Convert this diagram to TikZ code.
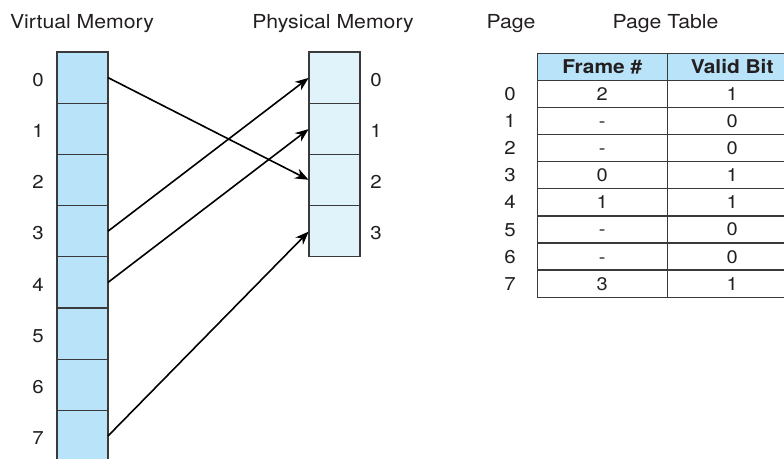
\documentclass[tikz,border=0pt]{standalone}
\usepackage{fontspec}
\setmainfont{TeX Gyre Heros}[FakeStretch=1.1]
\usetikzlibrary{arrows.meta}
\definecolor{vfill}{HTML}{B9E3F8}
\definecolor{pfill}{HTML}{E0F3FB}
\definecolor{edge}{HTML}{3A3A3A}
\definecolor{ink}{HTML}{231F20}
\begin{document}
\begin{tikzpicture}[x=1pt,y=-1pt,
  title/.style={anchor=base,text=ink,inner sep=0pt,font=\fontsize{19.3}{22}\selectfont},
  num/.style={anchor=base,text=ink,inner sep=0pt,font=\fontsize{18.6}{20}\selectfont},
  cell/.style={draw=edge,line width=1.3pt,minimum width=51pt,minimum height=51.2pt,inner sep=0pt,outer sep=0pt},
  vcell/.style={cell,fill=vfill},
  pcell/.style={cell,fill=pfill},
  tcell/.style={draw=edge,line width=1.3pt,minimum height=27.1pt,inner sep=0pt,outer sep=0pt,
    text=ink,text height=13pt,text depth=0pt,font=\fontsize{18.2}{20}\selectfont},
  fcol/.style={tcell,minimum width=130pt},
  bcol/.style={tcell,minimum width=129.7pt},
  hdr/.style={fill=vfill,text height=13.8pt,font=\fontsize{19}{22}\selectfont\bfseries},
  arr/.style={-{Stealth[length=13.5pt,width=10.5pt]},line width=1.6pt,black,shorten >=0.5pt}
]
\useasboundingbox (0,0) rectangle (784,458);

% column titles
\node[title] (tv) at (82,28.5) {Virtual Memory};
\node[title] (tp) at (333,28.5) {Physical Memory};
\node[title] (tg) at (511,28.5) {Page};
\node[title] (tt) at (665.5,28.5) {Page Table};

% virtual memory pages
\foreach \i in {0,...,7} {
  \node[vcell] (v\i) at (82.5,{77.6+51.2*\i}) {};
  \node[num] (vl\i) at (38,{86.3+51.2*\i}) {\i};
}

% physical memory frames
\foreach \i in {0,...,3} {
  \node[pcell] (p\i) at (334.5,{77.6+51.2*\i}) {};
  \node[num] (pl\i) at (376,{86.3+51.2*\i}) {\i};
}

% page table
\node[fcol,hdr] (hf) at (602.3,66.8) {Frame \#};
\node[bcol,hdr] (hb) at (732.15,66.8) {Valid Bit};
\foreach \i/\f/\b in {0/2/1,1/-/0,2/-/0,3/0/1,4/1/1,5/-/0,6/-/0,7/3/1} {
  \node[fcol] (f\i) at (602.3,{93.9+27.1*\i}) {\f};
  \node[bcol] (b\i) at (732.15,{93.9+27.1*\i}) {\b};
  \node[num] (gl\i) at (510,{100.5+27.1*\i}) {\i};
}

% page-to-frame mappings
\draw[arr] (v0.east) -- (p2.west);
\draw[arr] (v3.east) -- (p0.west);
\draw[arr] (v4.east) -- (p1.west);
\draw[arr] (v7.east) -- (p3.west);
\end{tikzpicture}
\end{document}
